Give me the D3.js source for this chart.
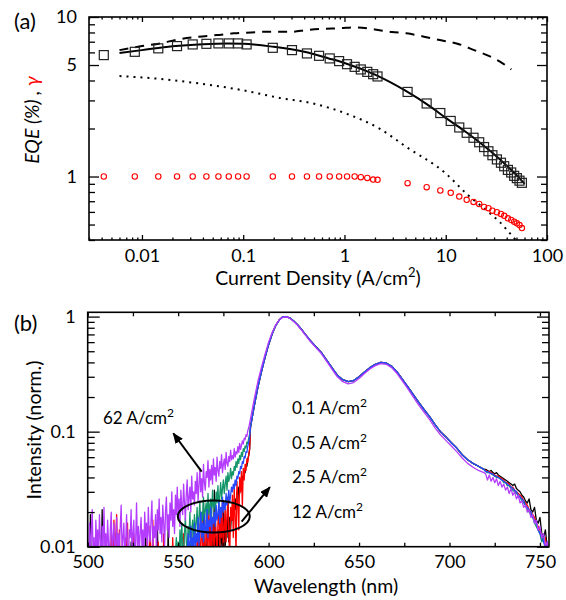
<!DOCTYPE html>
<html>
<head>
<meta charset="utf-8">
<script src="https://cdn.jsdelivr.net/npm/d3@7"></script>
<style>
  html, body { margin: 0; padding: 0; background: #fff; }
  svg text { font-family: Lato, "Open Sans", sans-serif; fill: #000; }
</style>
</head>
<body>
<svg id="chart" width="566" height="600"></svg>
<script>
// ================= Panel (a): EQE and gamma versus current density =================
const currentDensity = [0.0042, 0.0085, 0.0145, 0.0222, 0.0317, 0.0433, 0.0569, 0.072, 0.089, 0.108,
  0.196, 0.303, 0.426, 0.561, 0.715, 0.885, 1.06, 1.26, 1.45, 1.68, 1.92, 2.12, 4.2, 6.48, 8.84,
  11.2, 13.6, 16.1, 18.8, 21.4, 23.9, 26.4, 28.9, 32.0, 35.1, 37.8, 41.1, 44.3, 47.4, 50.4, 53.5, 56.5];
const eqeMeasured = [5.77, 6.05, 6.36, 6.57, 6.73, 6.79, 6.83, 6.83, 6.83, 6.73,
  6.41, 6.20, 5.91, 5.71, 5.50, 5.29, 5.06, 4.87, 4.69, 4.53, 4.38, 4.24, 3.39, 2.87, 2.50,
  2.23, 2.03, 1.88, 1.75, 1.64, 1.53, 1.44, 1.36, 1.28, 1.22, 1.16, 1.10, 1.06, 1.01, 0.977, 0.942, 0.913];
const gammaMeasured = [1, 1, 1, 1, 1, 1, 1, 1, 1, 1,
  1, 1, 1, 1, 1, 1, 1, 1, 0.99, 0.98, 0.957, 0.953, 0.908, 0.857, 0.817,
  0.79, 0.749, 0.714, 0.693, 0.673, 0.645, 0.633, 0.611, 0.597, 0.583, 0.567, 0.547, 0.534, 0.521, 0.509, 0.496, 0.475];

// model curves
const fitJ   = [0.006, 0.01, 0.02, 0.04, 0.07, 0.1, 0.2, 0.4, 0.7, 1, 2, 4, 7, 10, 15, 20, 30, 40, 50, 60];
const fitEQE = [5.95, 6.2, 6.55, 6.75, 6.82, 6.8, 6.5, 6.05, 5.5, 5.15, 4.35, 3.45, 2.75, 2.33, 1.95, 1.7, 1.38, 1.17, 1.02, 0.9];
const upperJ   = [0.006, 0.01, 0.015, 0.022, 0.035, 0.055, 0.08, 0.12, 0.17, 0.3, 0.42, 0.61, 0.89, 1.31, 2.0, 2.94, 4.1, 6.1, 9.0, 13.3, 19.1, 27.0, 34.3, 44.4];
const upperEQE = [6.2, 6.57, 6.83, 7.2, 7.5, 7.7, 7.9, 8.0, 8.08, 8.08, 8.28, 8.43, 8.5, 8.61, 8.35, 8.05, 7.9, 7.53, 7.14, 6.78, 6.2, 5.68, 5.25, 4.69];
const lowerJ   = [0.006, 0.01, 0.037, 0.1, 0.229, 0.49, 1.04, 2.24, 4.1, 10.1, 16.1, 25.5, 34.4, 46.7, 55];
const lowerEQE = [4.26, 4.18, 3.83, 3.47, 3.11, 2.87, 2.48, 1.99, 1.53, 1.04, 0.778, 0.611, 0.516, 0.415, 0.37];

const densityTicks = [0.01, 0.1, 1, 10, 100];
const densityTickLabels = ["0.01", "0.1", "1", "10", "100"];
const eqeTicks = [1, 5, 10];
const eqeTickLabels = ["1", "5", "10"];

// ================= Panel (b): normalised EL spectra =================
const spectrumLabels = ["0.1", "0.5", "2.5", "12", "62"];   // A/cm²
// noisy short-wavelength part, 0.5 nm steps from each start wavelength
const headStep = 0.5;
const headStarts = [500, 500, 554, 548, 500];
const head01 = [
  .004,.005,.003,.019,.005,.004,.006,.003,.005,.004,.006,.005,.004,.003,.005,.006,.021,.004,.005,.003,
  .005,.004,.006,.003,.005,.004,.005,.006,.003,.004,.013,.005,.004,.006,.003,.005,.004,.005,.006,.004,
  .003,.005,.004,.006,.005,.003,.004,.005,.011,.004,.006,.003,.005,.004,.006,.005,.003,.004,.005,.006,
  .004,.005,.003,.005,.014,.004,.006,.005,.003,.004,.005,.006,.004,.003,.005,.004,.006,.017,.005,.004,
  .005,.003,.006,.004,.005,.004,.006,.003,.005,.015,.004,.006,.005,.003,.004,.005,.006,.004,.005,.003,
  .006,.004,.005,.006,.003,.012,.005,.004,.006,.005,.004,.007,.005,.003,.006,.014,.004,.005,.007,.006,
  .005,.008,.006,.004,.011,.007,.005,.009,.024,.006,.008,.005,.013,.007,.006,.009,.005,.017,.008,.007,
  .031,.009,.012,.007,.010,.014,.008,.019,.011,.009,.025,.013,.010,.016,.012,.027,.011,.018,.014,.020,
  .017,.023,.019,.026,.021,.030,.025,.033,.029,.037,.034,.041,.039,.046,.044,.052,.050,.058,.062,.070];
const head05 = [
  .005,.006,.004,.007,.005,.006,.005,.004,.006,.005,.007,.004,.006,.005,.005,.006,.004,.007,.005,.006,
  .005,.004,.006,.005,.007,.005,.013,.006,.005,.017,.006,.011,.019,.007,.005,.014,.006,.005,.007,.004,
  .006,.005,.012,.006,.016,.005,.007,.004,.006,.005,.007,.013,.005,.006,.004,.007,.005,.006,.005,.009,
  .005,.006,.004,.007,.005,.006,.012,.005,.007,.015,.006,.005,.017,.006,.005,.007,.004,.006,.011,.005,
  .006,.005,.007,.004,.013,.006,.005,.007,.005,.006,.004,.008,.006,.005,.012,.006,.005,.007,.005,.006,
  .007,.005,.011,.006,.008,.005,.013,.007,.006,.009,.005,.012,.007,.006,.015,.008,.006,.011,.007,.009,
  .006,.013,.008,.016,.007,.011,.019,.008,.014,.010,.007,.017,.012,.009,.021,.010,.015,.008,.018,.012,
  .009,.020,.013,.008,.016,.023,.010,.018,.012,.025,.009,.015,.021,.011,.019,.026,.013,.008,.022,.017,
  .028,.012,.033,.018,.009,.037,.024,.014,.040,.030,.045,.022,.048,.038,.052,.046,.058,.054,.063,.070];
const head25 = [
  .007,.010,.008,.013,.009,.011,.015,.008,.012,.010,.016,.009,
  .013,.011,.018,.010,.014,.020,.012,.016,.011,.019,.014,.013,.021,.012,.017,.015,.022,.013,.018,.016,
  .020,.015,.023,.017,.019,.025,.016,.022,.018,.027,.020,.024,.021,.029,.023,.026,.031,.024,.028,.033,
  .030,.035,.032,.038,.034,.041,.039,.045,.043,.050,.048,.055,.053,.061,.059,.067,.066,.075,.081,.090];
const head12 = [
  .006,.009,.012,.008,
  .011,.007,.014,.009,.016,.010,.008,.013,.018,.011,.009,.015,.012,.020,.010,.014,.017,.011,.019,.013,
  .016,.022,.012,.018,.025,.014,.020,.017,.027,.015,.021,.024,.016,.029,.019,.023,.026,.018,.031,.022,
  .025,.020,.030,.024,.034,.022,.028,.036,.026,.032,.038,.029,.035,.041,.031,.044,.037,.040,.048,.039,
  .045,.042,.050,.046,.055,.049,.058,.053,.062,.057,.066,.061,.071,.067,.075,.072,.081,.079,.088,.095];
const head62 = [
  .011,.007,.016,.009,.013,.021,.008,.012,.006,.017,.010,.014,.008,.019,.012,.007,.015,.010,.022,.009,
  .013,.008,.017,.011,.007,.014,.020,.009,.012,.016,.008,.011,.018,.007,.013,.010,.015,.023,.009,.012,
  .016,.008,.011,.019,.010,.007,.014,.012,.021,.009,.013,.017,.008,.011,.024,.010,.015,.009,.013,.018,
  .010,.014,.008,.020,.012,.016,.009,.022,.013,.011,.017,.025,.010,.015,.012,.019,.009,.021,.014,.026,
  .013,.018,.011,.023,.016,.010,.020,.027,.014,.019,.012,.024,.017,.030,.015,.021,.013,.028,.019,.033,
  .018,.026,.015,.031,.022,.019,.035,.024,.017,.029,.038,.021,.027,.033,.020,.041,.026,.030,.023,.037,
  .029,.044,.025,.034,.048,.030,.039,.027,.052,.036,.031,.045,.040,.056,.033,.047,.038,.051,.035,.058,
  .042,.049,.037,.060,.046,.041,.055,.048,.063,.044,.052,.058,.047,.066,.053,.050,.061,.055,.069,.057,
  .062,.058,.071,.060,.067,.064,.074,.066,.079,.070,.076,.083,.078,.088,.085,.094,.091,.102,.108,.118];
// main emission band
const bodyWl = [590,592,594,596,598,600,602,604,606,608,610,612,614,616,618,620,623,626,629,632,635,638,641,644,647,
  650,653,656,659,662,665,668,671,674,677,680,683,686,689,692,695,698,701,704,707,710,713,716,719];
const bodyLowJ = [.11,.165,.24,.33,.44,.57,.71,.84,.94,1.0,.995,.97,.91,.85,.78,.71,.62,.55,.49,.42,.36,.31,.283,.272,.278,
  .3,.33,.36,.385,.4,.395,.37,.33,.285,.245,.21,.18,.155,.135,.115,.1,.09,.08,.072,.063,.057,.053,.05,.047];
const bodyHighJ = [.13,.19,.27,.36,.47,.6,.73,.85,.94,.99,.995,.96,.9,.84,.77,.7,.61,.54,.48,.41,.35,.3,.272,.26,.267,
  .29,.32,.35,.375,.39,.385,.36,.32,.275,.235,.2,.17,.147,.127,.108,.094,.084,.075,.067,.059,.053,.049,.046,.044];
// long-wavelength tail, 1 nm steps from 720 nm
const tailStart = 720;
const tail01 = [.047,.046,.045,.046,.044,.043,.044,.042,.041,.04,.039,.038,.037,.036,.035,.034,.035,.032,.031,.03,
  .028,.027,.025,.024,.026,.021,.02,.022,.017,.016,.018,.013,.012,.014,.01,.009];
const tail05 = [.046,.045,.045,.044,.043,.042,.041,.041,.04,.039,.038,.036,.036,.035,.033,.033,.031,.03,.029,.028,
  .027,.025,.024,.023,.021,.02,.019,.018,.016,.015,.014,.012,.011,.012,.009,.008];
const tail25 = [.045,.045,.044,.043,.043,.041,.041,.04,.039,.038,.037,.036,.035,.034,.033,.032,.031,.03,.028,.027,
  .026,.025,.023,.022,.021,.02,.018,.017,.016,.014,.013,.012,.011,.01,.011,.008];
const tail12 = [.045,.044,.044,.043,.042,.041,.04,.04,.039,.038,.036,.036,.034,.034,.032,.031,.03,.029,.028,.027,
  .025,.024,.023,.021,.02,.019,.018,.016,.015,.014,.013,.011,.012,.009,.01,.008];
const tail62 = [.043,.038,.042,.037,.04,.036,.039,.034,.037,.033,.035,.031,.033,.029,.032,.028,.03,.026,.028,.024,
  .025,.022,.023,.02,.021,.018,.019,.016,.017,.014,.015,.012,.013,.01,.011,.009];

const wavelengthTicks = [500, 550, 600, 650, 700, 750];
const wavelengthMinorTicks = [525, 575, 625, 675, 725];
const intensityTicks = [0.01, 0.1, 1];
const intensityTickLabels = ["0.01", "0.1", "1"];

// ================= drawing =================
const svg = d3.select("#chart");
const TICK_FONT = 18;
const TITLE_FONT = 19.5;

function logMinor(lo, hi) {
  const out = [];
  for (let e = -3; e <= 2; e++) for (let m = 2; m <= 9; m++) {
    const v = m * Math.pow(10, e);
    if (v >= lo * 0.999 && v <= hi * 1.001) out.push(+v.toPrecision(3));
  }
  return out;
}

function styleAxis(g) {
  g.select(".domain").remove();
  g.selectAll("line").attr("stroke", "#000").attr("stroke-width", 1.3);
  g.selectAll("text").attr("font-size", TICK_FONT).attr("font-family", "Lato, 'Open Sans', sans-serif").attr("fill", "#000");
}

function frameAxes(g, x, y, opt) {
  const [x0, x1] = x.range(), [y0, y1] = y.range();
  // bottom
  g.append("g").attr("transform", `translate(0,${y0})`)
    .call(d3.axisBottom(x).tickValues(opt.xMajor).tickSize(-opt.xMajorLen).tickPadding(opt.xPad)
      .tickFormat((d, i) => opt.xLabels[i])).call(styleAxis);
  g.append("g").attr("transform", `translate(0,${y0})`)
    .call(d3.axisBottom(x).tickValues(opt.xMinor).tickSize(-opt.xMinorLen).tickFormat("")).call(styleAxis);
  // top
  g.append("g").attr("transform", `translate(0,${y1})`)
    .call(d3.axisTop(x).tickValues(opt.xMajor).tickSize(-opt.xMajorLen).tickFormat("")).call(styleAxis);
  g.append("g").attr("transform", `translate(0,${y1})`)
    .call(d3.axisTop(x).tickValues(opt.xMinor).tickSize(-opt.xMinorLen).tickFormat("")).call(styleAxis);
  // left
  g.append("g").attr("transform", `translate(${x0},0)`)
    .call(d3.axisLeft(y).tickValues(opt.yMajor).tickSize(-opt.yMajorLen).tickPadding(opt.yPad)
      .tickFormat((d, i) => opt.yLabels[i])).call(styleAxis);
  g.append("g").attr("transform", `translate(${x0},0)`)
    .call(d3.axisLeft(y).tickValues(opt.yMinor).tickSize(-opt.yMinorLen).tickFormat("")).call(styleAxis);
  // right
  g.append("g").attr("transform", `translate(${x1},0)`)
    .call(d3.axisRight(y).tickValues(opt.yMajor).tickSize(-opt.yMajorLen).tickFormat("")).call(styleAxis);
  g.append("g").attr("transform", `translate(${x1},0)`)
    .call(d3.axisRight(y).tickValues(opt.yMinor).tickSize(-opt.yMinorLen).tickFormat("")).call(styleAxis);
  // frame
  g.append("rect").attr("x", x0).attr("y", y1).attr("width", x1 - x0).attr("height", y0 - y1)
    .attr("fill", "none").attr("stroke", "#000").attr("stroke-width", 1.6);
}

const defs = svg.append("defs");

// ---------- panel (a) ----------
const xA = d3.scaleLog().domain([0.003, 100]).range([89, 547]);
const yA = d3.scaleLog().domain([0.4, 10]).range([240, 17]);
const gA = svg.append("g");

defs.append("clipPath").attr("id", "clipA")
  .append("rect").attr("x", 89).attr("y", 17).attr("width", 458).attr("height", 223);

const lineA = d3.line().x(d => xA(d[0])).y(d => yA(d[1])).curve(d3.curveMonotoneX);
const plotA = gA.append("g").attr("clip-path", "url(#clipA)");

plotA.append("path").datum(d3.zip(lowerJ, lowerEQE)).attr("d", lineA)
  .attr("fill", "none").attr("stroke", "#000").attr("stroke-width", 2).attr("stroke-dasharray", "2,5");
plotA.append("path").datum(d3.zip(upperJ, upperEQE)).attr("d", lineA)
  .attr("fill", "none").attr("stroke", "#000").attr("stroke-width", 2).attr("stroke-dasharray", "9,7");
plotA.append("path").datum(d3.zip(fitJ, fitEQE)).attr("d", lineA)
  .attr("fill", "none").attr("stroke", "#000").attr("stroke-width", 2);

plotA.append("g").selectAll("rect").data(d3.zip(currentDensity, eqeMeasured)).join("rect")
  .attr("x", d => xA(d[0]) - 4.5).attr("y", d => yA(d[1]) - 4.5)
  .attr("width", 9).attr("height", 9)
  .attr("fill", "none").attr("stroke", "#222").attr("stroke-width", 1.2);

plotA.append("g").selectAll("circle").data(d3.zip(currentDensity, gammaMeasured)).join("circle")
  .attr("cx", d => xA(d[0])).attr("cy", d => yA(d[1])).attr("r", 2.7)
  .attr("fill", "none").attr("stroke", "#ff0000").attr("stroke-width", 1.1);

frameAxes(gA, xA, yA, {
  xMajor: densityTicks, xLabels: densityTickLabels, xMinor: logMinor(0.003, 100), xMajorLen: 5, xMinorLen: 2.5, xPad: 9,
  yMajor: eqeTicks, yLabels: eqeTickLabels, yMinor: logMinor(0.4, 10).filter(v => v !== 5), yMajorLen: 10, yMinorLen: 6, yPad: 12
});

const xTitleA = gA.append("text").attr("x", 318).attr("y", 285).attr("text-anchor", "middle").attr("font-size", TITLE_FONT);
xTitleA.append("tspan").text("Current Density (A/cm");
xTitleA.append("tspan").attr("dy", -8).attr("font-size", 13).text("2");
xTitleA.append("tspan").attr("dy", 8).text(")");

const yLabA = gA.append("text").attr("transform", "translate(39,120) rotate(-90)")
  .attr("text-anchor", "middle").attr("font-size", TITLE_FONT);
yLabA.append("tspan").attr("font-style", "italic").text("EQE (%) , ");
yLabA.append("tspan").attr("font-style", "italic").style("fill", "#ff0000").text("γ");

gA.append("text").attr("x", 14).attr("y", 29).attr("font-size", 22).text("(a)");

// ---------- panel (b) ----------
const xB = d3.scaleLinear().domain([500, 755]).range([87.7, 549]);
const yB = d3.scaleLog().domain([0.01, 1.09]).range([546.7, 312.3]);
const gB = svg.append("g");

defs.append("clipPath").attr("id", "clipB")
  .append("rect").attr("x", 87.7).attr("y", 312.3).attr("width", 461.3).attr("height", 234.4);

function spectrum(head, start, body, tail) {
  const pts = head.map((v, i) => [start + i * headStep, v]);
  bodyWl.forEach((w, i) => pts.push([w, body[i]]));
  tail.forEach((v, i) => pts.push([tailStart + i, v]));
  return pts;
}
// drawn back to front: 0.1, 0.5, 12, 2.5, 62 A/cm²
const spectra = [
  { name: spectrumLabels[0], pts: spectrum(head01, headStarts[0], bodyLowJ, tail01), color: "#000000" },
  { name: spectrumLabels[1], pts: spectrum(head05, headStarts[1], bodyLowJ, tail05), color: "#ff0000" },
  { name: spectrumLabels[3], pts: spectrum(head12, headStarts[3], bodyLowJ, tail12), color: "#14956a" },
  { name: spectrumLabels[2], pts: spectrum(head25, headStarts[2], bodyLowJ, tail25), color: "#2646ff" },
  { name: spectrumLabels[4], pts: spectrum(head62, headStarts[4], bodyHighJ, tail62), color: "#b43cff" }
];
const lineB = d3.line().x(d => xB(d[0])).y(d => yB(d[1])).curve(d3.curveLinear);
const plotB = gB.append("g").attr("clip-path", "url(#clipB)");
plotB.selectAll("path").data(spectra).join("path")
  .attr("d", d => lineB(d.pts)).attr("fill", "none")
  .attr("stroke", d => d.color).attr("stroke-width", 1.3).attr("stroke-linejoin", "round");

frameAxes(gB, xB, yB, {
  xMajor: wavelengthTicks, xLabels: wavelengthTicks.map(String), xMinor: wavelengthMinorTicks, xMajorLen: 4, xMinorLen: 4, xPad: 9,
  yMajor: intensityTicks, yLabels: intensityTickLabels, yMinor: logMinor(0.01, 1.09), yMajorLen: 12, yMinorLen: 7, yPad: 12
});

gB.append("text").attr("x", 326).attr("y", 593).attr("text-anchor", "middle").attr("font-size", TITLE_FONT).text("Wavelength (nm)");
gB.append("text").attr("transform", "translate(41,430) rotate(-90)").attr("text-anchor", "middle")
  .attr("font-size", TITLE_FONT).text("Intensity (norm.)");
gB.append("text").attr("x", 14).attr("y", 331).attr("font-size", 22).text("(b)");

// current density annotations
function cdLabel(x, y, value) {
  const t = gB.append("text").attr("x", x).attr("y", y).attr("font-size", 17);
  t.append("tspan").text(value + " A/cm");
  t.append("tspan").attr("dy", -7).attr("font-size", 12).text("2");
}
cdLabel(103, 424, spectrumLabels[4]);
[0, 1, 2, 3].forEach((k, i) => cdLabel(292, 414 + i * 34.5, spectrumLabels[k]));

// arrows and ellipse marking the noise floor region
defs.append("marker").attr("id", "arrowHead").attr("viewBox", "0 0 11 9").attr("refX", 10).attr("refY", 4.5)
  .attr("markerWidth", 11).attr("markerHeight", 9).attr("markerUnits", "userSpaceOnUse").attr("orient", "auto")
  .append("path").attr("d", "M0,0 L11,4.5 L0,9 Z").attr("fill", "#000");

const arrows = [
  { from: [563.0, 0.0449], to: [547.3, 0.0968] },
  { from: [585.1, 0.0165], to: [600.7, 0.0329] }
];
gB.selectAll("line.arrow").data(arrows).join("line").attr("class", "arrow")
  .attr("x1", d => xB(d.from[0])).attr("y1", d => yB(d.from[1]))
  .attr("x2", d => xB(d.to[0])).attr("y2", d => yB(d.to[1]))
  .attr("stroke", "#000").attr("stroke-width", 2).attr("marker-end", "url(#arrowHead)");

gB.append("ellipse").attr("cx", xB(569.7)).attr("cy", yB(0.0183)).attr("rx", 36).attr("ry", 16)
  .attr("fill", "none").attr("stroke", "#000").attr("stroke-width", 2);
</script>
</body>
</html>
